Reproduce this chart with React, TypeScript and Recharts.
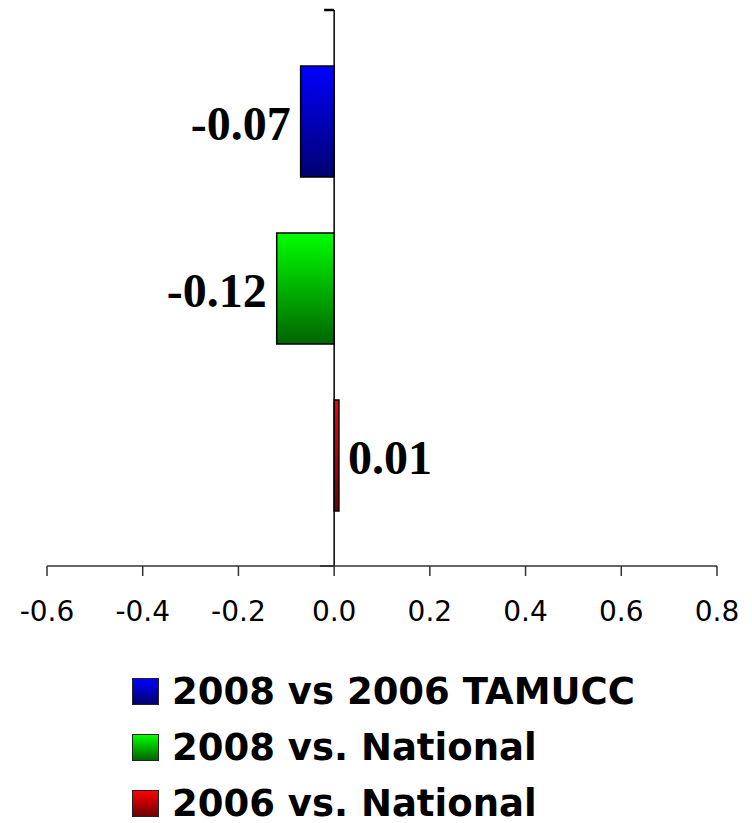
import React from 'react';
import { BarChart, Bar, XAxis, YAxis, ReferenceLine, Legend } from 'recharts';

// one category, three comparison series
const seriesKeys = ['tamucc', 'national2008', 'national2006'];
const seriesNames = ['2008 vs 2006 TAMUCC', '2008 vs. National', '2006 vs. National'];
const seriesValues = [-0.07, -0.12, 0.01];
const xTicks = [-0.6, -0.4, -0.2, 0.0, 0.2, 0.4, 0.6, 0.8];

const gradients = [
  { id: 'gBlue', top: '#0000ff', bottom: '#000070' },
  { id: 'gGreen', top: '#00ff00', bottom: '#006400' },
  { id: 'gRed', top: '#ff0000', bottom: '#700000' },
];

const data = [
  seriesKeys.reduce((row: Record<string, any>, key, i) => {
    row[key] = seriesValues[i];
    return row;
  }, { name: 'All' }),
];

const renderValueLabel = (props: any) => {
  const { x, y, width, height, value } = props;
  const left = Math.min(x, x + width);
  const right = Math.max(x, x + width);
  const neg = value < 0;
  return (
    <text
      x={neg ? left - 10 : right + 9}
      y={y + height / 2 + 2}
      textAnchor={neg ? 'end' : 'start'}
      dominantBaseline="central"
      fontFamily="'Liberation Serif', 'Times New Roman', serif"
      fontWeight="bold"
      fontSize={48}
      fill="#000"
    >
      {Number(value).toFixed(2)}
    </text>
  );
};

const XTick = (props: any) => {
  const { x, y, payload } = props;
  return (
    <text
      x={x}
      y={y + 33}
      textAnchor="middle"
      dominantBaseline="central"
      fontFamily="'DejaVu Sans', Verdana, sans-serif"
      fontSize={28}
      fill="#000"
    >
      {Number(payload.value).toFixed(1)}
    </text>
  );
};

// value axis at zero with the short end ticks
const zeroAxis = (props: any) => {
  const { x1, y1, x2, y2 } = props;
  return (
    <g>
      <line x1={x1} y1={y1} x2={x2} y2={y2} stroke="#000" strokeWidth={1.5} />
      <line x1={x1 - 14} y1={y1} x2={x1} y2={y1} stroke="#000" strokeWidth={1.5} />
      <line x1={x1 - 10} y1={y2} x2={x1} y2={y2} stroke="#000" strokeWidth={2.5} />
    </g>
  );
};

const LegendList = () => (
  <div style={{ display: 'flex', flexDirection: 'column' }}>
    {seriesNames.map((name, i) => (
      <div key={name} style={{ display: 'flex', alignItems: 'center', height: 56 }}>
        <div
          style={{
            width: 25,
            height: 25,
            border: '1.5px solid #222',
            background: `linear-gradient(${gradients[i].top}, ${gradients[i].bottom})`,
            marginRight: 13,
          }}
        />
        <span
          style={{
            fontFamily: "'DejaVu Sans', Verdana, sans-serif",
            fontWeight: 'bold',
            fontSize: 37,
            lineHeight: 1,
            color: '#000',
            whiteSpace: 'nowrap',
          }}
        >
          {name}
        </span>
      </div>
    ))}
  </div>
);

export default function App() {
  return (
    <div style={{ position: 'absolute', left: 0, top: 0, background: '#fff' }}>
      <BarChart
        width={752}
        height={823}
        data={data}
        layout="vertical"
        margin={{ top: 10, right: 35, left: 47, bottom: 197 }}
        barCategoryGap={56}
        barGap={56}
      >
        <defs>
          {gradients.map((g) => (
            <linearGradient key={g.id} id={g.id} x1="0" y1="0" x2="0" y2="1">
              <stop offset="0%" stopColor={g.top} />
              <stop offset="100%" stopColor={g.bottom} />
            </linearGradient>
          ))}
        </defs>
        <XAxis
          type="number"
          domain={[-0.6, 0.8]}
          ticks={xTicks}
          allowDataOverflow
          height={60}
          tickSize={10}
          axisLine={{ stroke: '#333', strokeWidth: 1.5 }}
          tickLine={{ stroke: '#333', strokeWidth: 1.5 }}
          tick={<XTick />}
        />
        <YAxis type="category" dataKey="name" hide />
        {seriesKeys.map((key, i) => (
          <Bar
            key={key}
            dataKey={key}
            name={seriesNames[i]}
            fill={`url(#${gradients[i].id})`}
            stroke="#000"
            strokeWidth={1.5}
            isAnimationActive={false}
            label={renderValueLabel}
          />
        ))}
        <ReferenceLine x={0} shape={zeroAxis} />
        <Legend
          layout="horizontal"
          verticalAlign="middle"
          align="center"
          content={() => <LegendList />}
          wrapperStyle={{ left: 132, top: 663, width: 'auto' }}
        />
      </BarChart>
    </div>
  );
}
